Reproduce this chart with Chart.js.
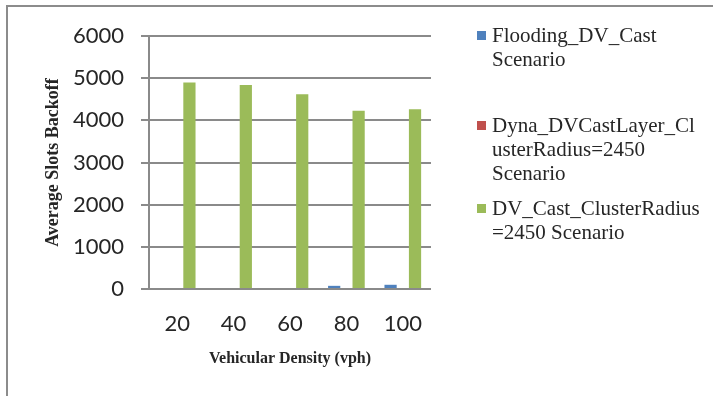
<!DOCTYPE html>
<html>
<head>
<meta charset="utf-8">
<script src="https://cdn.jsdelivr.net/npm/chart.js@4.4.0/dist/chart.umd.min.js"></script>
<style>
  html, body { margin: 0; padding: 0; background: #fff; }
  #wrap { position: relative; width: 713px; height: 396px; overflow: hidden; }
  #frame { position: absolute; left: 6px; top: 5px; width: 800px; height: 500px;
           border-left: 2px solid #8c8c8c; border-top: 2px solid #8c8c8c; }
  canvas { position: absolute; left: 0; top: 0; }
  .item { position: absolute; left: 477px; font: 21px/24px "Liberation Serif", "Times New Roman", serif; color: #262626; }
  .sw { position: absolute; left: 0; top: 8px; width: 9px; height: 9px; }
  .txt { position: absolute; left: 15px; top: 0; width: 210px; overflow-wrap: anywhere; }
</style>
</head>
<body>
<div id="wrap">
  <div id="frame"></div>
  <canvas id="chart" width="713" height="396"></canvas>
  <div id="legend"></div>
</div>
<script>
// Vehicular density categories (vph)
const categories = ['20', '40', '60', '80', '100'];

// Average slots backoff per scenario
const floodingDvCast = [0, 0, 0, 75, 100];
const dynaDvCastLayer = [0, 0, 0, 0, 0];
const dvCastCluster = [4900, 4840, 4620, 4230, 4260];

const seriesNames = [
  'Flooding_DV_Cast Scenario',
  'Dyna_DVCastLayer_ClusterRadius=2450 Scenario',
  'DV_Cast_ClusterRadius=2450 Scenario'
];
const seriesColors = ['#4F81BD', '#C0504D', '#9BBB59'];

// Value axis tick labels
const yTicks = [0, 1000, 2000, 3000, 4000, 5000, 6000];

const gridGrey = '#8a8a8a';
const textColor = '#262626';

const chart = new Chart(document.getElementById('chart'), {
  type: 'bar',
  data: {
    labels: categories,
    datasets: [
      { label: seriesNames[0], data: floodingDvCast, backgroundColor: seriesColors[0] },
      { label: seriesNames[1], data: dynaDvCastLayer, backgroundColor: seriesColors[1] },
      { label: seriesNames[2], data: dvCastCluster, backgroundColor: seriesColors[2] }
    ]
  },
  options: {
    responsive: false,
    animation: false,
    datasets: { bar: { categoryPercentage: 0.65, barPercentage: 1.0 } },
    layout: { padding: { left: 40, top: 36, right: 282, bottom: 28 } },
    plugins: { legend: { display: false }, tooltip: { enabled: false } },
    scales: {
      x: {
        grid: { display: false, drawTicks: false },
        border: { display: false },
        ticks: { font: { family: 'Lato', size: 22 }, color: textColor, padding: 22 },
        title: {
          display: true, text: 'Vehicular Density (vph)',
          font: { family: 'Liberation Serif', size: 16, weight: 'bold' },
          color: textColor, padding: 0
        },
        afterFit(scale) { scale.height = 79; }
      },
      y: {
        min: 0, max: 6000,
        afterBuildTicks(scale) { scale.ticks = yTicks.map(v => ({ value: v })); },
        ticks: {
          font: { family: 'Lato', size: 22 }, color: textColor, padding: 17,
          callback: (v) => String(v)
        },
        grid: { color: gridGrey, lineWidth: 2, tickLength: 8, drawTicks: true },
        border: { color: gridGrey, width: 2 },
        title: {
          display: true, text: 'Average Slots Backoff',
          font: { family: 'Liberation Serif', size: 18, weight: 'bold' },
          color: textColor, padding: { top: 3, bottom: 0 }
        },
        afterFit(scale) { scale.width = 109; }
      }
    }
  }
});

// Legend on the right, one wrapped entry per series
const legendTops = [23, 113, 196];
const legend = document.getElementById('legend');
chart.data.datasets.forEach((ds, i) => {
  const item = document.createElement('div');
  item.className = 'item';
  item.style.top = legendTops[i] + 'px';
  const sw = document.createElement('div');
  sw.className = 'sw';
  sw.style.background = ds.backgroundColor;
  const txt = document.createElement('div');
  txt.className = 'txt';
  txt.textContent = ds.label;
  item.appendChild(sw);
  item.appendChild(txt);
  legend.appendChild(item);
});
</script>
</body>
</html>
